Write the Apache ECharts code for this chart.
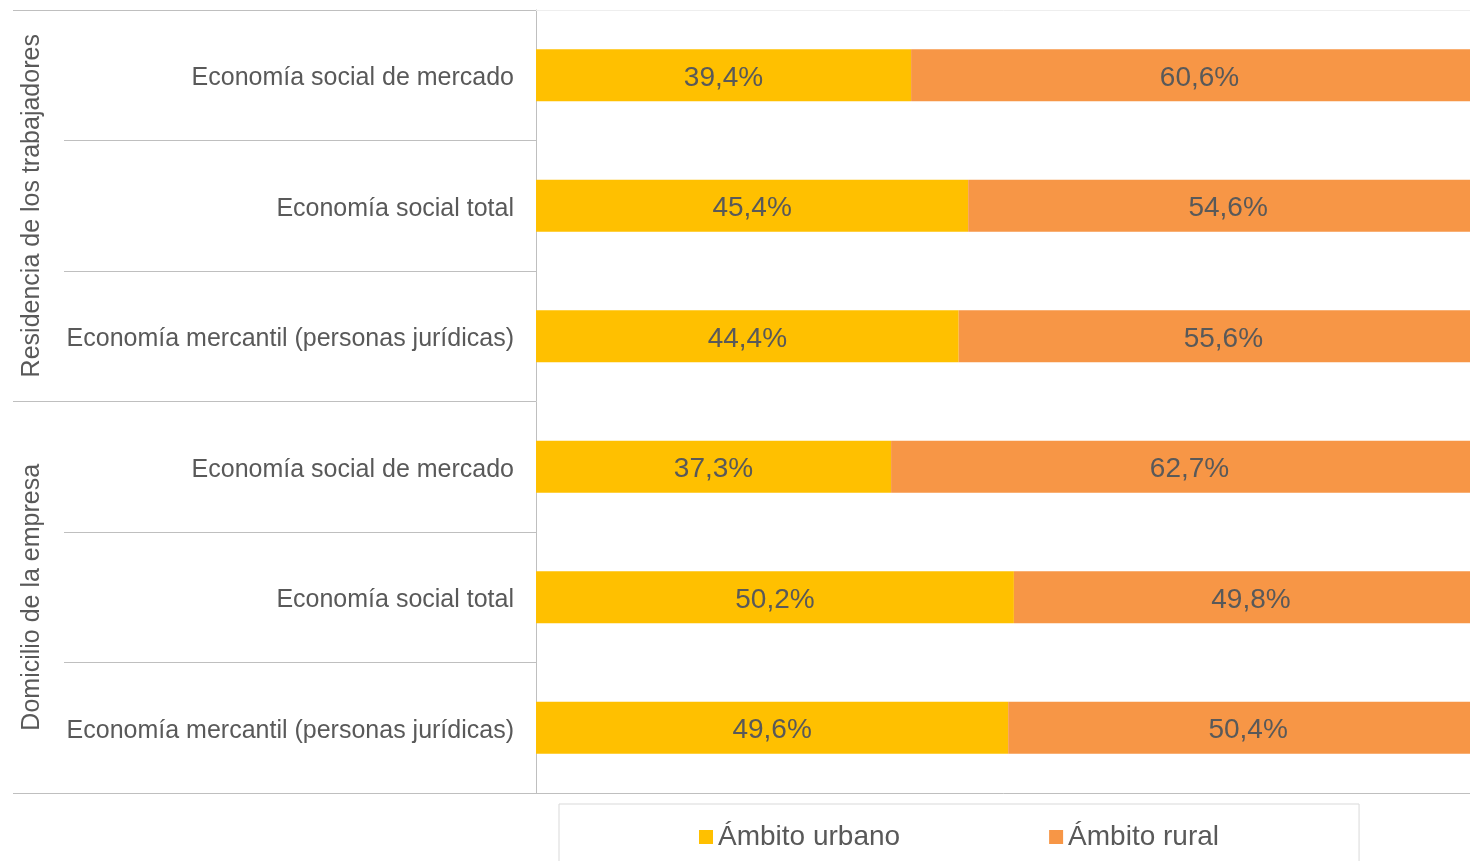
<!DOCTYPE html>
<html>
<head>
<meta charset="utf-8">
<script src="https://cdn.jsdelivr.net/npm/echarts@6/dist/echarts.min.js"></script>
<style>html,body{margin:0;padding:0;background:#fff;}#c{width:1470px;height:861px;}</style>
</head>
<body>
<div id="c"></div>
<script>
const categories = [
  'Economía social de mercado',
  'Economía social total',
  'Economía mercantil (personas jurídicas)',
  'Economía social de mercado',
  'Economía social total',
  'Economía mercantil (personas jurídicas)'
];
const groups = ['Residencia de los trabajadores', 'Domicilio de la empresa'];
const urbano = [39.4, 45.4, 44.4, 37.3, 50.2, 49.6];
const rural = [60.6, 54.6, 55.6, 62.7, 49.8, 50.4];
const seriesNames = ['Ámbito urbano', 'Ámbito rural'];

const FONT = '"Liberation Sans", Arial, sans-serif';
const TXT = '#595959';
const LINE = '#bfbfbf';
const fmt = p => p.value.toFixed(1).replace('.', ',') + '%';

const chart = echarts.init(document.getElementById('c'));
chart.setOption({
  animation: false,
  textStyle: { fontFamily: FONT },
  grid: { left: 536, right: -18, top: 10, bottom: 68, containLabel: false, outerBoundsMode: 'none' },
  xAxis: [
    { type: 'value', min: 0, max: 100, axisLabel: { show: false }, splitLine: { show: false },
      axisTick: { show: false }, axisLine: { show: true, lineStyle: { color: LINE, width: 1 } } },
    { type: 'value', position: 'top', min: 0, max: 100, axisLabel: { show: false }, splitLine: { show: false },
      axisTick: { show: false }, axisLine: { show: true, lineStyle: { color: '#eeeeee', width: 1 } } }
  ],
  yAxis: [
    { type: 'category', position: 'left', inverse: true, data: categories,
      axisLine: { show: true, lineStyle: { color: LINE, width: 1 } },
      axisTick: { show: true, length: 472, lineStyle: { color: LINE, width: 1 } },
      axisLabel: { color: TXT, fontSize: 25, margin: 22, fontFamily: FONT, interval: 0,
        formatter: v => '{a|' + v + '}',
        rich: { a: { color: TXT, fontSize: 25, fontFamily: FONT, padding: [6, 0, 0, 0] } } } },
    { type: 'category', position: 'left', inverse: true, data: groups,
      axisLine: { show: false },
      axisTick: { show: true, length: 523, lineStyle: { color: LINE, width: 1 } },
      axisLabel: { color: TXT, fontSize: 25, rotate: 90, margin: 491, interval: 0, fontFamily: FONT } }
  ],
  legend: {
    data: seriesNames, left: 559, top: 804, itemWidth: 14, itemHeight: 14, itemGap: 149,
    padding: [19, 140, 16, 140], borderColor: '#d9d9d9', borderWidth: 1, icon: 'rect',
    textStyle: { color: TXT, fontSize: 28, fontFamily: FONT }
  },
  series: [
    { name: seriesNames[0], type: 'bar', stack: 't', data: urbano, barWidth: 52,
      itemStyle: { color: '#FFC000' },
      label: { show: true, position: 'inside', offset: [0, 3], color: TXT, fontSize: 28, fontFamily: FONT, formatter: fmt } },
    { name: seriesNames[1], type: 'bar', stack: 't', data: rural, barWidth: 52,
      itemStyle: { color: '#F79646' },
      label: { show: true, position: 'inside', offset: [0, 3], color: TXT, fontSize: 28, fontFamily: FONT, formatter: fmt } }
  ]
});
</script>
</body>
</html>
